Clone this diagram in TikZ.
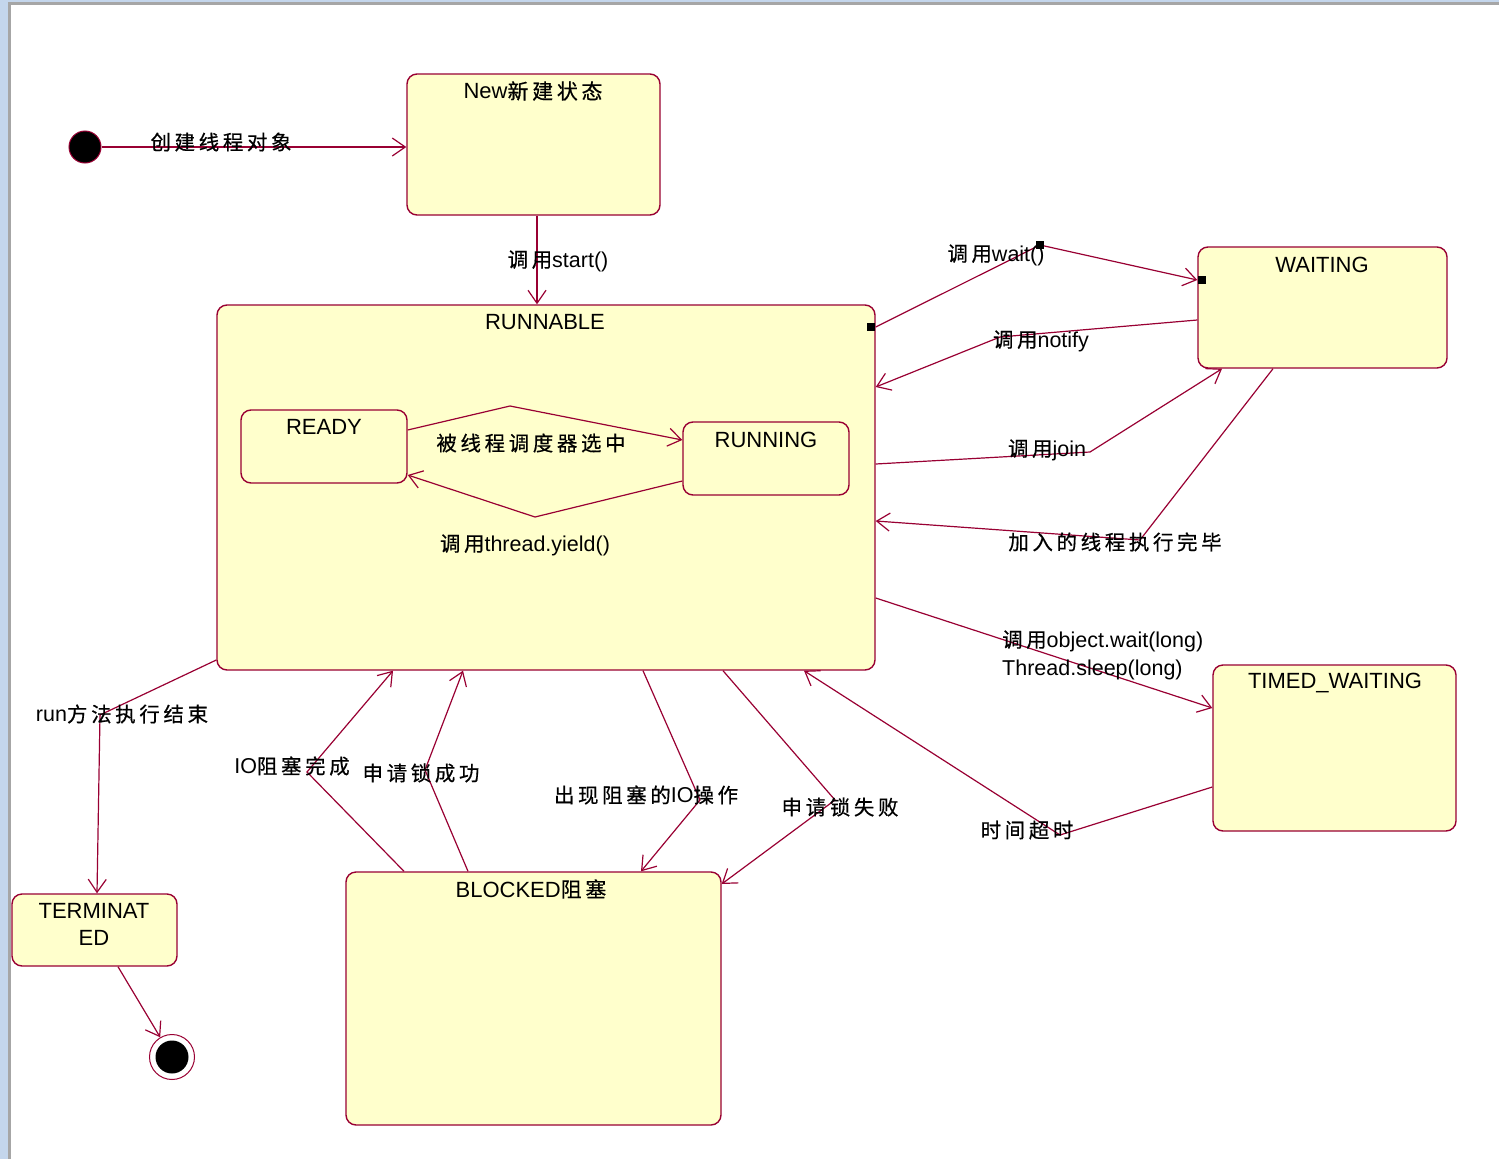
\documentclass[tikz,border=0pt]{standalone}
\usepackage{fontspec}
\setmainfont{Liberation Sans}
\newfontfamily\cjk[LetterSpace=18, Scale=0.95, FakeBold=0.6]{Noto Sans CJK SC}
\newcommand\zh[1]{{\cjk #1}}
\usetikzlibrary{arrows.meta}
\definecolor{lred}{RGB}{153,0,51}
\definecolor{lyel}{RGB}{255,255,204}
\definecolor{frameblue}{RGB}{196,214,236}
\tikzset{
  box/.style={draw=lred, fill=lyel, rounded corners=10pt, line width=1.4pt, inner sep=0pt},
  ttl/.style={font=\fontsize{22}{24}\selectfont, inner sep=1pt},
  lbl/.style={font=\fontsize{21.5}{28}\selectfont, inner sep=1pt},
  tr/.style={draw=lred, line width=1.2pt, -{Straight Barb[length=13pt,width=18pt,line width=1.2pt]}},
  sq/.style={fill=black, minimum size=8pt, inner sep=0pt}
}
\begin{document}
\begin{tikzpicture}[x=1pt,y=-1pt]
\useasboundingbox (0,0) rectangle (1499,1159);
\fill[white] (0,0) rectangle (1499,1159);
\fill[frameblue] (0,0) rectangle (8,1159);
\fill[frameblue] (0,0) rectangle (1499,2);
\fill[gray!70] (8,2) rectangle (11,1159);
\fill[gray!70] (8,2) rectangle (1499,5);

% states
\node[box, minimum width=253pt, minimum height=141pt] (new) at (533.5,144.5) {};
\node[box, minimum width=658pt, minimum height=365pt] (runnable) at (546,487.5) {};
\node[box, minimum width=166pt, minimum height=73pt] (ready) at (324,446.5) {};
\node[box, minimum width=166pt, minimum height=73pt] (running) at (766,458.5) {};
\node[box, minimum width=249pt, minimum height=121pt] (waiting) at (1322.5,307.5) {};
\node[box, minimum width=243pt, minimum height=166pt] (timed) at (1334.5,748) {};
\node[box, minimum width=375pt, minimum height=253pt] (blocked) at (533.5,998.5) {};
\node[box, minimum width=165pt, minimum height=72pt] (term) at (94.5,930) {};

\node[ttl] (newt) at (533,91) {New\zh{新建状态}};
\node[ttl] (runnablet) at (545,322) {RUNNABLE};
\node[ttl] (readyt) at (324,427) {READY};
\node[ttl] (runningt) at (766,440) {RUNNING};
\node[ttl] (waitingt) at (1322,265) {WAITING};
\node[ttl] (timedt) at (1335,683) {TIMED\_WAITING};
\node[ttl] (blockedt) at (531,889) {BLOCKED\zh{阻塞}};
\node[ttl, align=center, font=\fontsize{22}{27}\selectfont] (termt) at (94,924) {TERMINAT\\ED};

% initial and final
\node[circle, fill=black, draw=lred, line width=1pt, minimum size=32pt, inner sep=0pt] (init) at (85,147) {};
\node[circle, draw=lred, line width=1pt, fill=white, minimum size=45pt, inner sep=0pt] (fin) at (172,1057) {};
\node[circle, fill=black, minimum size=33pt, inner sep=0pt] (finin) at (fin) {};

% transitions
\draw[tr] (init) -- (new.west |- init);
\draw[tr] (new.south -| 537,0) -- (runnable.north -| 537,0);
\draw[tr] (ready.east |- 0,430) -- (510,406) -- (running.west |- 0,440);
\draw[tr] (running.west |- 0,481) -- (535,517) -- (ready.east |- 0,475);
\draw[tr] (runnable.east |- 0,327) -- (1040,245) -- (waiting.west |- 0,280);
\draw[tr] (waiting.west |- 0,320) -- (1000,337) -- (runnable.east |- 0,387);
\draw[tr] (runnable.east |- 0,464) -- (1090,452) -- (waiting.south -| 1222,0);
\draw[tr] (waiting.south -| 1273,0) -- (1140,540) -- (runnable.east |- 0,521);
\draw[tr] (runnable.east |- 0,598) -- (timed.west |- 0,708);
\draw[tr] (timed.west |- 0,787) -- (1060,835) -- (runnable.south -| 804,0);
\draw[tr] (blocked.north -| 404,0) -- (307,772) -- (runnable.south -| 393,0);
\draw[tr] (blocked.north -| 468,0) -- (425,770) -- (runnable.south -| 463,0);
\draw[tr] (runnable.south -| 643,0) -- (700,800) -- (blocked.north -| 641,0);
\draw[tr] (runnable.south -| 723,0) -- (835,800) -- (blocked.east |- 0,884);
\draw[tr] (runnable.west |- 0,660) -- (100,715) -- (term.north -| 97,0);
\draw[tr] (term.south -| 118,0) -- (fin);

\node[sq] (sq1) at (871,327) {};
\node[sq] (sq2) at (1040,245) {};
\node[sq] (sq3) at (1202,280) {};

% labels
\node[lbl] (l1) at (221,142) {\zh{创建线程对象}};
\node[lbl] (l2) at (558,261) {\zh{调用}start()};
\node[lbl] (l3) at (531,443) {\zh{被线程调度器选中}};
\node[lbl] (l4) at (525,545) {\zh{调用}thread.yield()};
\node[lbl] (l5) at (996,255) {\zh{调用}wait()};
\node[lbl] (l6) at (1041,341) {\zh{调用}notify};
\node[lbl] (l7) at (1047,450) {\zh{调用}join};
\node[lbl] (l8) at (1115,542) {\zh{加入的线程执行完毕}};
\node[lbl, align=left, anchor=west] (l9) at (1001,655) {\zh{调用}object.wait(long)\\Thread.sleep(long)};
\node[lbl] (l10) at (1027,830) {\zh{时间超时}};
\node[lbl] (l11) at (122,714) {run\zh{方法执行结束}};
\node[lbl] (l12) at (292,766) {IO\zh{阻塞完成}};
\node[lbl] (l13) at (421,773) {\zh{申请锁成功}};
\node[lbl] (l14) at (646,795) {\zh{出现阻塞的}IO\zh{操作}};
\node[lbl] (l15) at (840,807) {\zh{申请锁失败}};
\end{tikzpicture}
\end{document}
